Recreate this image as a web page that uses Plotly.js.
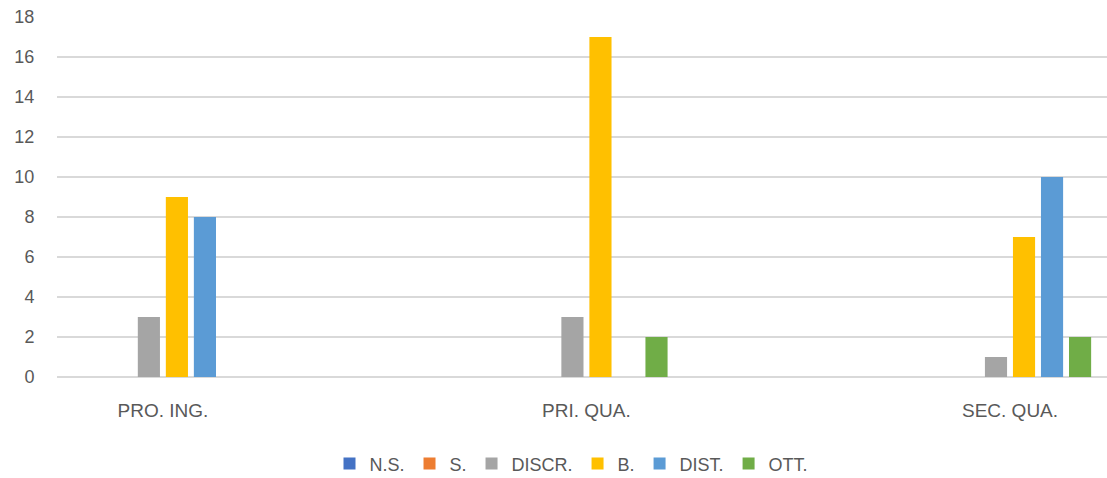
<!DOCTYPE html>
<html><head><meta charset="utf-8">
<script src="https://cdn.plot.ly/plotly-3.0.1.min.js"></script>
<style>html,body{margin:0;padding:0;background:#fff;}#chart{width:1107px;height:478px;}</style>
</head><body><div id="chart"></div>
<script>
const categories = ["PRO. ING.", "PRI. QUA.", "SEC. QUA."];
const seriesNames = ["N.S.", "S.", "DISCR.", "B.", "DIST.", "OTT."];
const NS    = [0, 0, 0];
const S     = [0, 0, 0];
const DISCR = [3, 3, 1];
const B     = [9, 17, 7];
const DIST  = [8, 0, 10];
const OTT   = [0, 2, 2];
const colors = ["#4472C4", "#ED7D31", "#A5A5A5", "#FFC000", "#5B9BD5", "#70AD47"];
const values = [NS, S, DISCR, B, DIST, OTT];

const traces = seriesNames.map((n, i) => ({
  type: "bar", name: n, x: categories, y: values[i],
  marker: {color: colors[i]}, hoverinfo: "y"
}));

const layout = {
  width: 1107, height: 478,
  margin: {l: 57, r: 0, t: 17, b: 101, autoexpand: false},
  paper_bgcolor: "#fff", plot_bgcolor: "#fff",
  barmode: "group", bargap: 0.603, bargroupgap: 0.21,
  font: {family: "Liberation Sans, Arial, sans-serif", size: 18, color: "#595959"},
  xaxis: {type: "category", range: [-0.25, 2.229], showgrid: false, zeroline: false,
          showline: false, ticks: "outside", ticklen: 16, tickcolor: "rgba(0,0,0,0)",
          tickfont: {size: 19, color: "#595959"}, automargin: false},
  yaxis: {range: [0, 18], dtick: 2, showgrid: true, gridcolor: "#D9D9D9", gridwidth: 1.5,
          zeroline: true, zerolinecolor: "#D9D9D9", zerolinewidth: 1.5, showline: false,
          ticks: "outside", ticklen: 18, tickcolor: "rgba(0,0,0,0)",
          tickfont: {size: 18, color: "#595959"}, automargin: false},
  legend: {orientation: "h", x: 0.49, xanchor: "center", y: -0.19, yanchor: "top",
           font: {size: 18, color: "#595959"}, itemwidth: 30, traceorder: "normal"},
  showlegend: true
};
Plotly.newPlot("chart", traces, layout, {displayModeBar: false, staticPlot: true});
</script></body></html>
